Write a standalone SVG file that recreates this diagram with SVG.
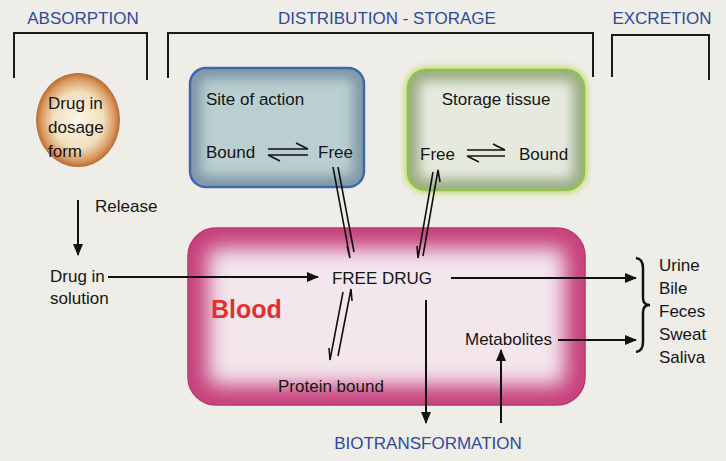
<svg xmlns="http://www.w3.org/2000/svg" width="726" height="461" viewBox="0 0 726 461">
<style>
.hdr{font-family:"Liberation Sans",Arial,sans-serif;font-size:17px;fill:#2e4a9c}
.t{font-family:"Liberation Sans",Arial,sans-serif;font-size:17px;fill:#151515}
.br{fill:none;stroke:#1a1a1a;stroke-width:2}
.ln{fill:none;stroke:#111;stroke-width:2}
.eq{fill:none;stroke:#111;stroke-width:1.6}
</style>
<defs>
<marker id="ah" markerWidth="12" markerHeight="10" refX="11" refY="5" orient="auto" markerUnits="userSpaceOnUse">
<path d="M0,0 L12,5 L0,10 Z" fill="#111"/>
</marker>
<radialGradient id="egg" cx="0.5" cy="0.5" r="0.5">
<stop offset="0" stop-color="#fbf6e8"/>
<stop offset="0.6" stop-color="#f2dfbd"/>
<stop offset="0.88" stop-color="#d9965c"/>
<stop offset="1" stop-color="#b86a34"/>
</radialGradient>
<filter id="blur10" x="-20%" y="-20%" width="140%" height="140%"><feGaussianBlur stdDeviation="10"/></filter>
<filter id="blur6" x="-20%" y="-20%" width="140%" height="140%"><feGaussianBlur stdDeviation="6"/></filter>
<filter id="blur3" x="-20%" y="-20%" width="140%" height="140%"><feGaussianBlur stdDeviation="3"/></filter>
<clipPath id="cBlood"><rect x="188" y="228" width="397" height="177" rx="28"/></clipPath>
<clipPath id="cSite"><rect x="190" y="68" width="174" height="119" rx="16"/></clipPath>
<clipPath id="cStore"><rect x="408" y="70" width="176" height="120" rx="18"/></clipPath>
</defs>
<rect width="726" height="461" fill="#efede7"/>

<g id="headers">
<text class="hdr" x="83" y="24" text-anchor="middle">ABSORPTION</text>
<text class="hdr" x="387" y="24" text-anchor="middle">DISTRIBUTION - STORAGE</text>
<text class="hdr" x="662" y="24" text-anchor="middle">EXCRETION</text>
<text class="hdr" x="428" y="449" text-anchor="middle">BIOTRANSFORMATION</text>
</g>

<g id="brackets">
<path class="br" d="M14,78 V33 H147 V80"/>
<path class="br" d="M168,78 V33 H593 V77"/>
<path class="br" d="M612,77 V35 H709 V80"/>
</g>

<g id="blood">
<g clip-path="url(#cBlood)">
<rect x="188" y="228" width="397" height="177" fill="#f3e6ec"/>
<rect x="188" y="228" width="397" height="177" rx="28" fill="none" stroke="#c63f7c" stroke-width="40" filter="url(#blur10)"/>
</g>
<rect x="188" y="228" width="397" height="177" rx="28" fill="none" stroke="#b8386f" stroke-width="1.5"/>
<text x="211" y="318" font-family="Liberation Sans,Arial,sans-serif" font-size="25" font-weight="bold" fill="#e2302e">Blood</text>
<text class="t" x="382" y="284" text-anchor="middle">FREE DRUG</text>
<text class="t" x="278" y="392">Protein bound</text>
<text class="t" x="465" y="345">Metabolites</text>
</g>

<g id="site-of-action">
<g clip-path="url(#cSite)">
<rect x="190" y="68" width="174" height="119" fill="#b9cfd1"/>
<rect x="190" y="68" width="174" height="119" rx="16" fill="none" stroke="#7f98a6" stroke-width="22" filter="url(#blur6)"/>
</g>
<rect x="190" y="68" width="174" height="119" rx="16" fill="none" stroke="#3e69ad" stroke-width="2.5"/>
<text class="t" x="206" y="105">Site of action</text>
<text class="t" x="206" y="158">Bound</text>
<text class="t" x="318" y="158">Free</text>
<path class="eq" d="M268,149 H308 L296,143 M308,155 H268 L280,161"/>
</g>

<g id="storage-tissue">
<rect x="408" y="70" width="176" height="120" rx="18" fill="none" stroke="#b8dc60" stroke-width="6" filter="url(#blur3)"/>
<g clip-path="url(#cStore)">
<rect x="408" y="70" width="176" height="120" fill="#e6eade"/>
<rect x="408" y="70" width="176" height="120" rx="18" fill="none" stroke="#9aae86" stroke-width="22" filter="url(#blur6)"/>
</g>
<rect x="408" y="70" width="176" height="120" rx="18" fill="none" stroke="#93c046" stroke-width="2.5"/>
<text class="t" x="496" y="105" text-anchor="middle">Storage tissue</text>
<text class="t" x="420" y="160">Free</text>
<text class="t" x="519" y="160">Bound</text>
<path class="eq" d="M467,150 H505 L493,144 M505,156 H467 L479,162"/>
</g>

<g id="dosage-form">
<ellipse cx="78" cy="120" rx="42" ry="47" fill="url(#egg)"/>
<text class="t" x="48" y="109">Drug in</text>
<text class="t" x="48" y="133">dosage</text>
<text class="t" x="48" y="157">form</text>
</g>

<g id="solution">
<text class="t" x="50" y="282">Drug in</text>
<text class="t" x="50" y="304">solution</text>
</g>

<g id="excretion-routes">
<text class="t" x="659" y="271">Urine</text>
<text class="t" x="659" y="294">Bile</text>
<text class="t" x="659" y="317">Feces</text>
<text class="t" x="659" y="340">Sweat</text>
<text class="t" x="659" y="363">Saliva</text>
<path d="M636,258 Q643,259 643,268 V298 Q643,305 650,305 Q643,305 643,312 V342 Q643,351 636,352" fill="none" stroke="#111" stroke-width="2.5"/>
</g>

<g id="connectors">
<text class="t" x="95" y="212">Release</text>
<line class="ln" x1="78" y1="200" x2="78" y2="255" marker-end="url(#ah)"/>
<line class="ln" x1="108" y1="277" x2="318" y2="277" marker-end="url(#ah)"/>
<line class="ln" x1="451" y1="278" x2="636" y2="278" marker-end="url(#ah)"/>
<line class="ln" x1="558" y1="340" x2="636" y2="340" marker-end="url(#ah)"/>
<line class="ln" x1="426" y1="300" x2="426" y2="423" marker-end="url(#ah)"/>
<line class="ln" x1="501" y1="423" x2="501" y2="350" marker-end="url(#ah)"/>
<!-- site of action free <-> free drug -->
<path class="eq" d="M333,167 L350,258 L347,246 M338,167 L354,252"/>
<!-- storage free <-> free drug -->
<path class="eq" d="M433,172 L418,258 L417,246 M423,256 L438,170 L440,182"/>
<!-- free drug <-> protein bound -->
<path class="eq" d="M343,292 L330,360 L329,348 M338,356 L351,289 L352,301"/>
</g>
</svg>
